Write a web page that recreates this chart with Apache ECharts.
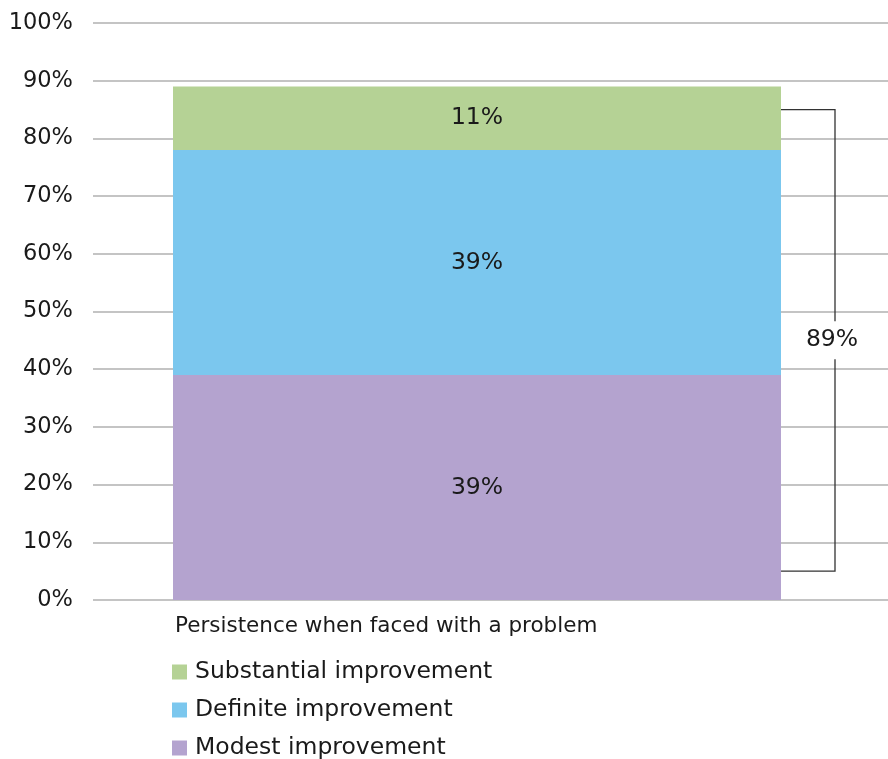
<!DOCTYPE html>
<html>
<head>
<meta charset="utf-8">
<script src="https://cdn.jsdelivr.net/npm/echarts@6/dist/echarts.min.js"></script>
<style>
  html, body { margin: 0; padding: 0; background: #fff; }
  #chart { width: 888px; height: 759px; }
</style>
</head>
<body>
<div id="chart"></div>
<script>
// Survey outcome: share of respondents reporting improvement
const categories = ['Persistence when faced with a problem'];
const modest = [39];
const definite = [39];
const substantial = [11];
const yTicks = [0, 10, 20, 30, 40, 50, 60, 70, 80, 90, 100];
// Span covered by the total bracket, in axis units
const bracketLow = 5;
const bracketHigh = 85;

const FONT = 'DejaVu Sans';
const TEXT = '#1a1a1a';
const BAR_W = 608;
const total = modest[0] + definite[0] + substantial[0];

const chart = echarts.init(document.getElementById('chart'));

const segLabel = { show: true, position: 'inside', formatter: '{c}%', fontSize: 23.5, color: TEXT, fontFamily: FONT };

chart.setOption({
  animation: false,
  textStyle: { fontFamily: FONT },
  grid: [
    { left: 93, right: 0, top: 23, height: 577 },
    { left: 93, width: 768, top: 23, height: 577 }
  ],
  title: {
    text: categories[0],
    left: 170, top: 609,
    textStyle: { fontFamily: FONT, fontSize: 21.5, lineHeight: 24, fontWeight: 'normal', color: TEXT }
  },
  legend: {
    orient: 'vertical',
    left: 167, top: 655, height: 130,
    itemWidth: 15, itemHeight: 15, itemGap: 14,
    icon: 'rect',
    data: ['Substantial improvement', 'Definite improvement', 'Modest improvement'],
    textStyle: { fontFamily: FONT, fontSize: 23.5, lineHeight: 23.5, color: TEXT, padding: [0, 0, 0, 3] }
  },
  xAxis: [
    { type: 'category', gridIndex: 0, data: categories, show: false },
    { type: 'category', gridIndex: 1, data: categories, show: false }
  ],
  yAxis: [
    {
      type: 'value', gridIndex: 0, min: 0, max: 100, interval: 10,
      axisLine: { show: false }, axisTick: { show: false },
      splitLine: { lineStyle: { color: '#c4c4c4', width: 2 } },
      axisLabel: {
        margin: 20, fontSize: 22.5, color: TEXT, fontFamily: FONT,
        formatter: v => yTicks.includes(v) ? v + '%' : ''
      }
    },
    {
      type: 'value', gridIndex: 1, min: 0, max: 100, interval: 10,
      show: false, splitLine: { show: false }
    }
  ],
  series: [
    {
      name: 'Modest improvement', type: 'bar', stack: 'total',
      xAxisIndex: 1, yAxisIndex: 1, barWidth: BAR_W,
      itemStyle: { color: '#b4a3cf' },
      label: segLabel,
      data: modest
    },
    {
      name: 'Definite improvement', type: 'bar', stack: 'total',
      xAxisIndex: 1, yAxisIndex: 1, barWidth: BAR_W,
      itemStyle: { color: '#7bc7ee' },
      label: segLabel,
      data: definite
    },
    {
      name: 'Substantial improvement', type: 'bar', stack: 'total',
      xAxisIndex: 1, yAxisIndex: 1, barWidth: BAR_W,
      itemStyle: { color: '#b5d295' },
      label: segLabel,
      data: substantial
    },
    {
      // Bracket showing the combined total beside the bar
      type: 'custom', xAxisIndex: 1, yAxisIndex: 1, silent: true, z: 5,
      data: [[0, bracketLow, bracketHigh]],
      renderItem: function (params, api) {
        const lo = api.coord([api.value(0), api.value(1)]);
        const hi = api.coord([api.value(0), api.value(2)]);
        const x0 = lo[0] + BAR_W / 2;
        const x1 = x0 + 54;
        return {
          type: 'group',
          children: [
            {
              type: 'polyline',
              shape: { points: [[x0, hi[1]], [x1, hi[1]], [x1, lo[1]], [x0, lo[1]]] },
              style: { stroke: '#333', lineWidth: 1.3, fill: null }
            },
            {
              type: 'text',
              style: {
                x: x1 - 3, y: (hi[1] + lo[1]) / 2,
                text: total + '%',
                align: 'center', verticalAlign: 'middle',
                font: '23.5px "' + FONT + '"', fill: TEXT,
                backgroundColor: '#fff', padding: [7, 2, 7, 2]
              }
            }
          ]
        };
      }
    }
  ]
});
</script>
</body>
</html>
